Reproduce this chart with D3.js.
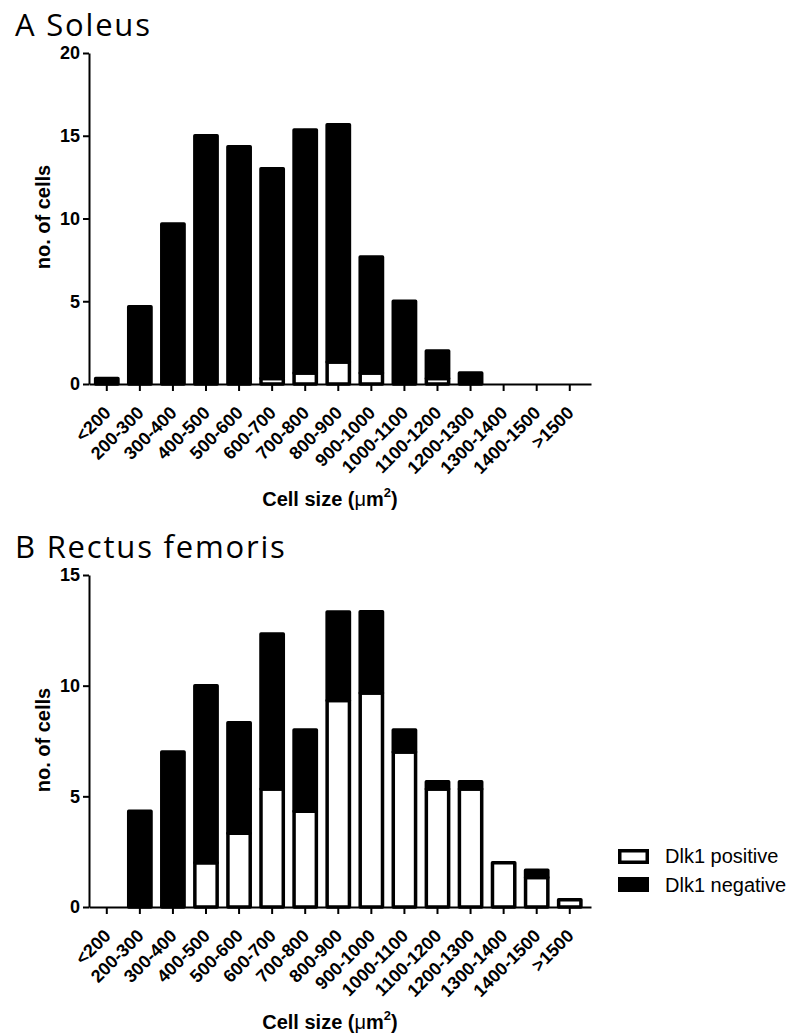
<!DOCTYPE html>
<html>
<head>
<meta charset="utf-8">
<script src="https://cdn.jsdelivr.net/npm/d3@7"></script>
<style>
  body { margin: 0; background: #fff; }
  svg { display: block; }
  .axis path, .axis line { stroke: #000; stroke-width: 2; }
  .axis text { font-family: 'Liberation Sans', Arial, sans-serif; font-weight: bold; font-size: 18px; fill: #000; }
  .title { font-family: 'Open Sans', sans-serif; font-size: 31px; letter-spacing: 1.8px; }
  .label { font-family: 'Liberation Sans', Arial, sans-serif; font-weight: bold; font-size: 20px; }
  .legend { font-family: 'Liberation Sans', Arial, sans-serif; font-size: 20px; }
</style>
</head>
<body>
<div id="chart"></div>
<script>
const categories = ['<200', '200-300', '300-400', '400-500', '500-600', '600-700',
  '700-800', '800-900', '900-1000', '1000-1100', '1100-1200', '1200-1300',
  '1300-1400', '1400-1500', '>1500'];

// Soleus: Dlk1 positive / negative cells per size class
const soleusPositive = [0, 0, 0, 0, 0, 0.33, 0.67, 1.33, 0.67, 0, 0.33, 0, 0, 0, 0];
const soleusNegative = [0.33, 4.67, 9.67, 15, 14.33, 12.67, 14.67, 14.33, 7, 5, 1.67, 0.67, 0, 0, 0];
const soleusTicks = [0, 5, 10, 15, 20];

// Rectus femoris
const rectusPositive = [0, 0, 0, 2, 3.33, 5.33, 4.33, 9.33, 9.67, 7, 5.33, 5.33, 2, 1.33, 0.33];
const rectusNegative = [0, 4.33, 7, 8, 5, 7, 3.67, 4, 3.67, 1, 0.33, 0.33, 0, 0.33, 0];
const rectusTicks = [0, 5, 10, 15];

const legendLabels = ['Dlk1 positive', 'Dlk1 negative'];

const width = 789;
const height = 1036;
const barStroke = 3.5;

let svg = d3.select('#chart')
  .append('svg')
    .attr('width', width)
    .attr('height', height);

/**
* Draw one stacked histogram panel.
*/
function drawPanel(opts) {
  let rows = categories.map(function(c, i) {
    return {cat: c, positive: opts.positive[i], negative: opts.negative[i]};
  });

  let x = d3.scaleBand()
      .domain(categories)
      .range([89, 591])
      .paddingInner(0.22)
      .paddingOuter(0.2)
      .align(0.37);

  let y = d3.scaleLinear()
      .domain([0, d3.max(opts.ticks)])
      .range([opts.bottom, opts.top]);

  let g = svg.append('g');

  g.append('text')
      .attr('class', 'title')
      .attr('x', 15)
      .attr('y', opts.titleY)
      .text(opts.title);

  let series = d3.stack()
      .keys(['positive', 'negative'])(rows);

  g.selectAll('g.series')
      .data(series)
    .enter()
    .append('g')
      .attr('class', 'series')
      .attr('fill', function(d) {
        return d.key == 'positive' ? '#fff' : '#000';
      })
    .selectAll('rect')
      .data(function(d) {
        return d.filter(function(s) {
          return s[1] - s[0] > 0;
        });
      })
    .enter()
    .append('rect')
      .attr('x', function(d) {
        return x(d.data.cat) + barStroke / 2;
      })
      .attr('width', x.bandwidth() - barStroke)
      .attr('y', function(d) {
        return y(d[1]);
      })
      .attr('height', function(d) {
        return y(d[0]) - y(d[1]);
      })
      .attr('stroke', '#000')
      .attr('stroke-width', barStroke)
      .attr('stroke-linejoin', 'round');

  g.append('g')
      .attr('class', 'axis')
      .attr('transform', 'translate(89,0)')
      .call(d3.axisLeft(y).tickValues(opts.ticks).tickSize(6).tickPadding(3).tickSizeOuter(0));

  let xAxis = g.append('g')
      .attr('class', 'axis')
      .attr('transform', 'translate(0,' + opts.bottom + ')')
      .call(d3.axisBottom(x).tickSize(7).tickSizeOuter(0));

  xAxis.selectAll('text')
      .attr('text-anchor', 'end')
      .attr('dy', null)
      .attr('y', null)
      .attr('transform', 'translate(5,30) rotate(-45)');

  g.append('text')
      .attr('class', 'label')
      .attr('text-anchor', 'middle')
      .attr('transform', 'translate(50,' + opts.yLabelY + ') rotate(-90)')
      .text('no. of cells');

  let xl = g.append('text')
      .attr('class', 'label')
      .attr('text-anchor', 'middle')
      .attr('x', 330)
      .attr('y', opts.bottom + 122);
  xl.append('tspan').text('Cell size (');
  xl.append('tspan').attr('font-weight', 'normal').text('\u03bc');
  xl.append('tspan').text('m');
  xl.append('tspan').attr('font-size', 13).attr('dy', -9).text('2');
  xl.append('tspan').attr('dy', 9).text(')');
}

drawPanel({
  title: 'A Soleus', titleY: 36,
  positive: soleusPositive, negative: soleusNegative, ticks: soleusTicks,
  top: 53, bottom: 384, yLabelY: 217
});

drawPanel({
  title: 'B Rectus femoris', titleY: 558,
  positive: rectusPositive, negative: rectusNegative, ticks: rectusTicks,
  top: 575, bottom: 907, yLabelY: 740
});

// legend
let legend = svg.append('g')
    .attr('transform', 'translate(618,849)');

legend.selectAll('rect')
    .data(legendLabels)
  .enter()
  .append('rect')
    .attr('x', barStroke / 2)
    .attr('y', function(d, i) {
      return i * 28 + barStroke / 2;
    })
    .attr('width', 31 - barStroke)
    .attr('height', 15 - barStroke)
    .attr('fill', function(d, i) {
      return i == 0 ? '#fff' : '#000';
    })
    .attr('stroke', '#000')
    .attr('stroke-width', barStroke);

legend.selectAll('text')
    .data(legendLabels)
  .enter()
  .append('text')
    .attr('class', 'legend')
    .attr('x', 47)
    .attr('y', function(d, i) {
      return 14 + i * 29;
    })
    .text(function(d) {
      return d;
    });
</script>
</body>
</html>
